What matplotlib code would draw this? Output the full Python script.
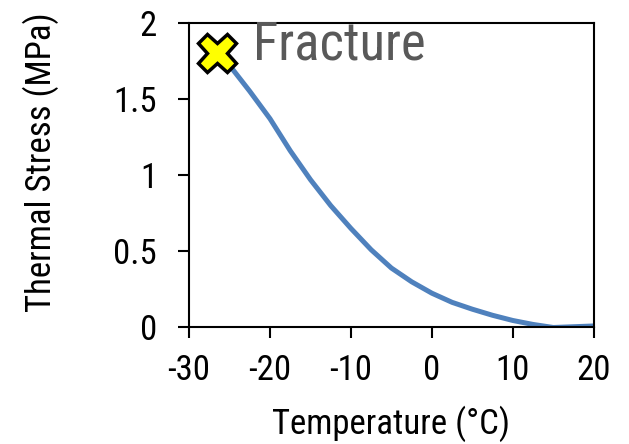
import matplotlib.pyplot as plt

# temperature (degC) vs. thermal stress (MPa)
temp = [-26.5, -25, -22.5, -20, -17.5, -15, -12.5, -10, -7.5, -5, -2.5,
        0, 2.5, 5, 7.5, 10, 12.5, 15, 17.5, 20]
stress = [1.80, 1.72, 1.55, 1.37, 1.16, 0.97, 0.80, 0.65, 0.51, 0.39, 0.30,
          0.225, 0.165, 0.12, 0.08, 0.046, 0.02, 0.0, 0.005, 0.01]

fracture_t = -26.5
fracture_s = 1.80

xticks = [-30, -20, -10, 0, 10, 20]
yticks = [0, 0.5, 1, 1.5, 2]
ytick_labels = ['0', '0.5', '1', '1.5', '2']

plt.rcParams['font.family'] = ['Roboto Condensed', 'DejaVu Sans']
plt.rcParams['axes.unicode_minus'] = False

fig = plt.figure(figsize=(6.29, 4.44), dpi=100)
ax = fig.add_axes([0.3005, 0.2624, 0.6435, 0.6866])

ax.plot(temp, stress, color='#4F81BD', linewidth=3.6, solid_capstyle='butt', zorder=2)
ax.plot([fracture_t], [fracture_s], marker='X', markersize=28, markerfacecolor='#FFFF00',
        markeredgecolor='black', markeredgewidth=2.5, linestyle='none', zorder=3, clip_on=False)
ax.text(-22.1, 1.755, 'Fracture', fontsize=38, color='#595959', va='baseline', ha='left')

ax.set_xlim(-30, 20)
ax.set_ylim(0, 2)
ax.set_xticks(xticks)
ax.set_yticks(yticks)
ax.set_yticklabels(ytick_labels)
ax.tick_params(direction='out', length=8, width=1.5, labelsize=25, color='black')
ax.tick_params(axis='x', pad=11)
ax.tick_params(axis='y', pad=15)
for s in ax.spines.values():
    s.set_linewidth(1.5)
    s.set_color('black')

ax.set_xlabel('Temperature (°C)', fontsize=25)
ax.set_ylabel('Thermal Stress (MPa)', fontsize=25)
ax.xaxis.set_label_coords(0.5, -0.255)
ax.yaxis.set_label_coords(-0.32, 0.543)

fig.savefig('out.png', dpi=100)
